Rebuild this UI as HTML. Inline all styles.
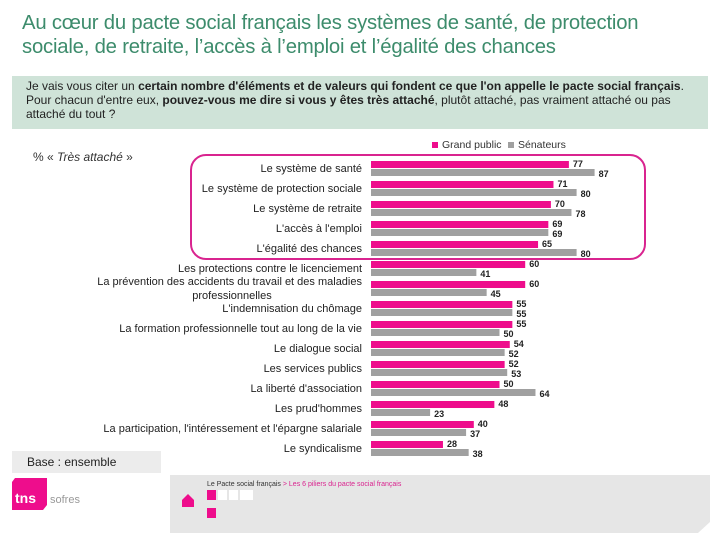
<!DOCTYPE html>
<html><head><meta charset="utf-8"><style>
body{margin:0;width:720px;height:540px;background:#fff;overflow:hidden;font-family:"Liberation Sans",sans-serif;position:relative}
.title{position:absolute;left:22px;top:11px;font-size:20.3px;line-height:24px;color:#3d8c6c;letter-spacing:-0.2px}
.q{position:absolute;left:12px;top:76px;height:53px;background:#cfe3d8;font-size:12px;line-height:14px;color:#222;padding:3px 0 0 14px;box-sizing:border-box;width:696px}
.base{position:absolute;left:12px;top:451px;width:149px;height:22px;background:#ececec;font-size:12px;color:#222;padding:4px 0 0 15px;box-sizing:border-box}
svg{position:absolute;left:0;top:0}
</style></head><body>
<div class="title">Au cœur du pacte social français les systèmes de santé, de protection<br>sociale, de retraite, l’accès à l’emploi et l’égalité des chances</div>
<div class="q">Je vais vous citer un <b>certain nombre d'éléments et de valeurs qui fondent ce que l'on appelle le pacte social français</b>.<br>Pour chacun d'entre eux, <b>pouvez-vous me dire si vous y êtes très attaché</b>, plutôt attaché, pas vraiment attaché ou pas<br>attaché du tout ?</div>
<div class="base">Base : ensemble</div>
<svg id="chart" width="720" height="540">
<text x="33" y="161" font-size="12" fill="#333">% « <tspan font-style="italic">Très attaché</tspan> »</text>
<rect x="191" y="155" width="454" height="104" rx="15" fill="none" stroke="#d9248f" stroke-width="2"/>
<g>
<rect x="432" y="142" width="6" height="6" fill="#ee0d8c"/>
<text x="442" y="148" font-size="10.5" fill="#333">Grand public</text>
<rect x="508" y="142" width="6" height="6" fill="#a0a0a0"/>
<text x="518" y="148" font-size="10.5" fill="#333">Sénateurs</text>
</g>
<g id="bars"></g>
<g>
<path d="M170 475 H710 V522 L698 533 H170 Z" fill="#e6e6e6"/>
<text x="207" y="486" font-size="7" fill="#333">Le Pacte social français <tspan fill="#d9248f">&gt; Les 6 piliers du pacte social français</tspan></text>
<path d="M182 500 L188 494 L194 500 V507 H182 Z" fill="#ee0d8c"/>
<rect x="207" y="490" width="9" height="10" fill="#ee0d8c"/>
<rect x="218" y="490" width="9" height="10" fill="#fff"/>
<rect x="229" y="490" width="9" height="10" fill="#fff"/>
<rect x="240" y="490" width="13" height="10" fill="#fff"/>
<rect x="207" y="508" width="9" height="10" fill="#ee0d8c"/>
<path d="M15 478 H47 V505 L43 510 H12 V482 Z" fill="#ee0d8c"/>
<text x="15" y="503" font-size="14" font-weight="bold" fill="#fff">tns</text>
<text x="50" y="503" font-size="11" fill="#999">sofres</text>
</g>
</svg>
<script>
const categories=[["Le système de santé"],["Le système de protection sociale"],["Le système de retraite"],["L'accès à l'emploi"],["L'égalité des chances"],["Les protections contre le licenciement"],["La prévention des accidents du travail et des maladies","professionnelles"],["L'indemnisation du chômage"],["La formation professionnelle tout au long de la vie"],["Le dialogue social"],["Les services publics"],["La liberté d'association"],["Les prud'hommes"],["La participation, l'intéressement et l'épargne salariale"],["Le syndicalisme"]];
const grandPublic=[77,71,70,69,65,60,60,55,55,54,52,50,48,40,28];
const senateurs=[87,80,78,69,80,41,45,55,50,52,53,64,23,37,38];
const x0=371, scale=2.57, rowY0=168, rowH=20;
const xs=v=>x0+v*scale;
const ys=i=>rowY0+i*rowH;
const g=document.getElementById('bars');
const NS='http://www.w3.org/2000/svg';
function mk(t,a){const e=document.createElementNS(NS,t);for(const k in a)e.setAttribute(k,a[k]);g.appendChild(e);return e;}
categories.forEach((lines,i)=>{
  const cy=ys(i);
  lines.forEach((ln,j)=>{
    const t=mk('text',{x:362,y:cy+4-(lines.length-1)*7+j*14,'font-size':11,fill:'#222','text-anchor':lines.length>1&&j>0?'middle':'end'});
    if(lines.length>1&&j>0)t.setAttribute('x',232);
    t.textContent=ln;
    
    
  });
  const b1=mk('rect',{x:x0,y:cy-7,width:xs(grandPublic[i])-x0,height:7,fill:'#ee0d8c'});
  
  
  const b2=mk('rect',{x:x0,y:cy+1,width:xs(senateurs[i])-x0,height:7,fill:'#a0a0a0'});
  
  
  const t1=mk('text',{x:xs(grandPublic[i])+4,y:cy-1,'font-size':9,'font-weight':'bold',fill:'#222'});
  t1.textContent=grandPublic[i];
  
  
  const t2=mk('text',{x:xs(senateurs[i])+4,y:cy+9,'font-size':9,'font-weight':'bold',fill:'#222'});
  t2.textContent=senateurs[i];
  
  
});
</script>
</body></html>
